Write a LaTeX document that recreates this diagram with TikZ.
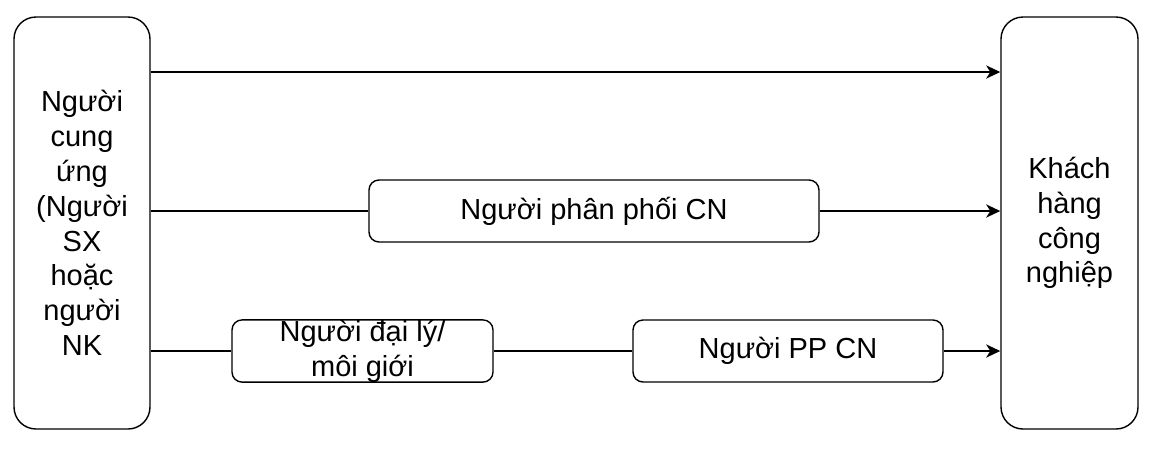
\documentclass[tikz,border=0pt]{standalone}
\usepackage{fontspec}
\setmainfont{Liberation Sans}
\usetikzlibrary{arrows.meta}
\begin{document}
\begin{tikzpicture}[x=1pt,y=-1pt,
  bigbox/.style={draw=black,line width=1.4pt,rounded corners=22pt,minimum width=136pt,minimum height=412pt,inner sep=0pt,align=center,font=\fontsize{29}{34.8}\selectfont},
  smallbox/.style={draw=black,line width=1.4pt,rounded corners=10pt,minimum height=62pt,inner sep=0pt,align=center,font=\fontsize{29}{34.8}\selectfont},
  arr/.style={line width=2.9pt,-{Stealth[length=14pt,width=13pt,inset=4pt]}},
  conn/.style={line width=2.9pt}]
\useasboundingbox (0,0) rectangle (1151,459);
\node[bigbox] (src) at (82,223) {Người\\cung\\ứng\\(Người\\SX\\hoặc\\người\\NK};
\node[bigbox,minimum width=137pt] (cust) at (1069.5,223) {Khách\\hàng\\công\\nghiệp};
\node[smallbox,minimum width=450pt] (dist) at (594,211) {Người phân phối CN};
\node[smallbox,minimum width=261pt] (agent) at (362.5,351) {Người đại lý/\\môi giới};
\node[smallbox,minimum width=310pt] (pp) at (788,351) {Người PP CN};
\coordinate (t1) at (src.east |- 0,72);
\coordinate (t2) at (cust.west |- 0,72);
\draw[arr] (t1) -- (t2);
\draw[conn] (src.east |- dist.west) -- (dist.west);
\draw[arr] (dist.east) -- (cust.west |- dist.east);
\draw[conn] (src.east |- agent.west) -- (agent.west);
\draw[conn] (agent.east) -- (pp.west);
\draw[arr] (pp.east) -- (cust.west |- pp.east);
\end{tikzpicture}
\end{document}
